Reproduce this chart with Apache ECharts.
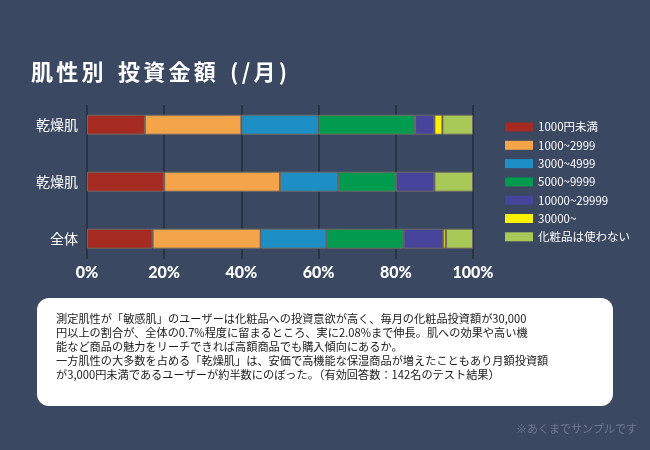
<!DOCTYPE html>
<html>
<head>
<meta charset="utf-8">
<script src="https://cdn.jsdelivr.net/npm/echarts@6/dist/echarts.min.js"></script>
<style>
html,body{margin:0;padding:0;background:#3b4861;}
#main{width:650px;height:450px;}
</style>
</head>
<body>
<div id="main"></div>
<script>
const categories = ['乾燥肌', '乾燥肌', '全体'];
const seriesNames = ['1000円未満', '1000~2999', '3000~4999', '5000~9999', '10000~29999', '30000~', '化粧品は使わない'];
const seriesColors = ['#a52a22', '#f4a54a', '#1e8fc4', '#009b4f', '#47449b', '#fff200', '#a8c858'];
const under1000 = [15, 20, 17];
const v1000to2999 = [25, 30, 28];
const v3000to4999 = [20, 15, 17];
const v5000to9999 = [25, 15, 20];
const v10000to29999 = [5, 10, 10.3];
const v30000plus = [2.08, null, 0.7];
const noCosmetics = [7.92, 10, 7];
const xTicks = [0, 20, 40, 60, 80, 100];
const titleText = '肌性別 投資金額 (/月)';
const bodyLines = [
  '測定肌性が「敏感肌」のユーザーは化粧品への投資意欲が高く、毎月の化粧品投資額が30,000',
  '円以上の割合が、全体の0.7%程度に留まるところ、実に2.08%まで伸長。肌への効果や高い機',
  '能など商品の魅力をリーチできれば高額商品でも購入傾向にあるか。',
  '一方肌性の大多数を占める「乾燥肌」は、安価で高機能な保湿商品が増えたこともあり月額投資額',
  'が3,000円未満であるユーザーが約半数にのぼった。（有効回答数：142名のテスト結果）'
];
const footerText = '※あくまでサンプルです';

const allValues = [under1000, v1000to2999, v3000to4999, v5000to9999, v10000to29999, v30000plus, noCosmetics];
const FONT = '"Noto Sans CJK JP", "Noto Sans", sans-serif';

// title as spaced rich text (one token per character)
const titleRich = titleText.split('').map(ch => ch === ' ' ? '{s|\u00a0}' : '{c|' + ch + '}').join('');

const chart = echarts.init(document.getElementById('main'));
chart.setOption({
  backgroundColor: '#3b4861',
  animation: false,
  legend: {
    orient: 'vertical',
    left: 505, top: 121, padding: 0,
    itemWidth: 28, itemHeight: 9, itemGap: 6.3,
    icon: 'rect',
    data: seriesNames,
    itemStyle: { borderWidth: 0 },
    textStyle: { color: '#ffffff', fontSize: 11.5, lineHeight: 12, fontFamily: FONT }
  },
  grid: [
    { left: 87, width: 386, top: 105, height: 154 },
    { left: 87, width: 386, top: 96.2, height: 171 }
  ],
  xAxis: [
    {
      gridIndex: 0, type: 'value', min: 0, max: 100, interval: 20,
      axisLine: { show: false }, axisTick: { show: false },
      splitLine: { show: true, lineStyle: { color: '#262c38', width: 1.5 } },
      axisLabel: { formatter: '{value}%', color: '#ffffff', fontSize: 16, fontWeight: 900, margin: 6, fontFamily: 'Lato, "Noto Sans", sans-serif' }
    },
    {
      gridIndex: 1, type: 'value', min: 0, max: 100, show: false
    }
  ],
  yAxis: [
    { gridIndex: 0, type: 'category', data: categories, show: false },
    {
      gridIndex: 1, type: 'category', data: categories, inverse: true,
      axisLine: { show: false }, axisTick: { show: false },
      axisLabel: { color: '#ffffff', fontSize: 14, margin: 9, fontFamily: FONT }
    }
  ],
  series: seriesNames.map((name, i) => ({
    name: name,
    type: 'bar',
    xAxisIndex: 1, yAxisIndex: 1,
    stack: 'total',
    barWidth: 20,
    data: allValues[i],
    itemStyle: { color: seriesColors[i], borderColor: '#6f6a66', borderWidth: 1 }
  })),
  graphic: [
    {
      type: 'text', silent: true,
      x: 31, y: 61,
      style: {
        text: titleRich, fill: '#ffffff', fontSize: 22, fontWeight: 'bold', fontFamily: FONT,
        rich: {
          c: { fontSize: 22, fontWeight: 'bold', fontFamily: FONT, fill: '#ffffff', padding: [0, 3.3, 0, 0] },
          s: { fontSize: 22, fontFamily: FONT, width: 11 }
        }
      }
    },
    {
      type: 'rect', silent: true,
      shape: { x: 37, y: 298, width: 576, height: 108, r: 12 },
      style: { fill: '#ffffff' }
    },
    {
      type: 'text', silent: true,
      x: 56, y: 312,
      style: { text: bodyLines.join('\n'), fill: '#1a1a1a', fontSize: 11.2, lineHeight: 14, fontFamily: FONT }
    },
    {
      type: 'text', silent: true,
      right: 13, top: 423,
      style: { text: footerText, fill: '#6e7a92', fontSize: 11, fontFamily: FONT }
    }
  ]
});
</script>
</body>
</html>
